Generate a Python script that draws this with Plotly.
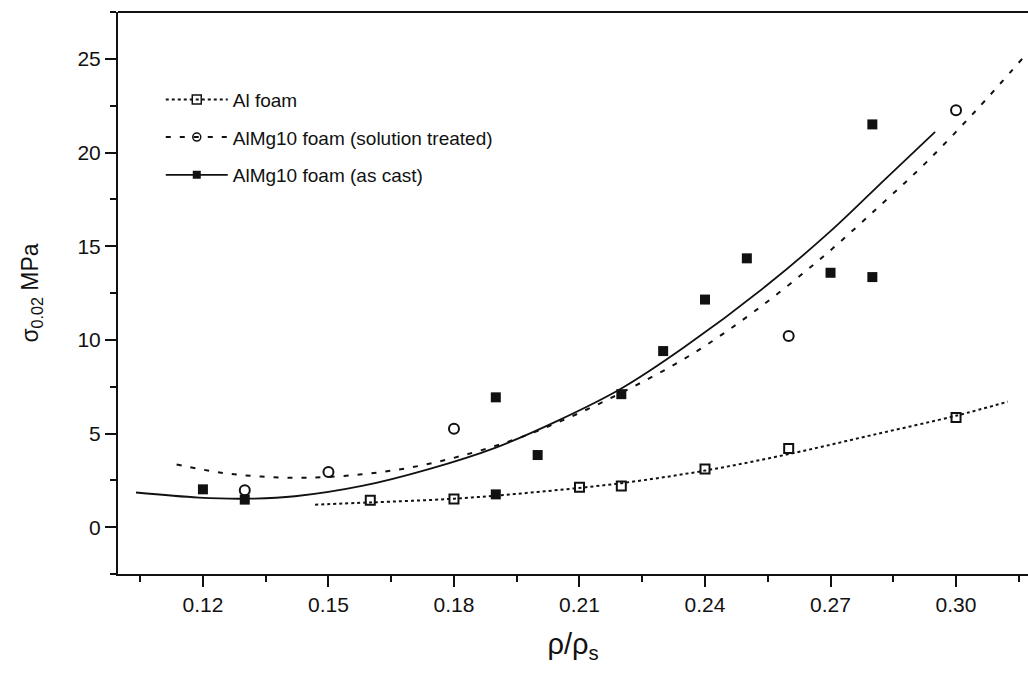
import plotly.graph_objects as go

# Measured yield strength sigma_0.02 (MPa) vs relative density rho/rho_s
al_x = [0.16, 0.18, 0.21, 0.22, 0.24, 0.26, 0.30]
al_y = [1.44, 1.50, 2.13, 2.20, 3.10, 4.20, 5.85]

st_x = [0.13, 0.15, 0.18, 0.26, 0.30]
st_y = [1.97, 2.94, 5.25, 10.2, 22.25]

cast_x = [0.12, 0.13, 0.19, 0.19, 0.20, 0.22, 0.23, 0.24, 0.25, 0.27, 0.28, 0.28]
cast_y = [2.02, 1.47, 6.93, 1.75, 3.85, 7.10, 9.40, 12.15, 14.35, 13.58, 13.35, 21.5]

# Fitted trend curves
al_fit_x = [0.1468, 0.16, 0.18, 0.20, 0.22, 0.24, 0.26, 0.28, 0.30, 0.3124]
al_fit_y = [1.20, 1.32, 1.52, 1.88, 2.35, 3.02, 3.90, 4.92, 5.95, 6.70]

st_fit_x = [0.1137, 0.124, 0.134, 0.145, 0.158, 0.170, 0.182, 0.195, 0.208,
            0.222, 0.237, 0.252, 0.268, 0.282, 0.293, 0.305, 0.3158]
st_fit_y = [3.35, 2.92, 2.70, 2.64, 2.82, 3.20, 3.82, 4.72, 5.90,
            7.40, 9.25, 11.55, 14.40, 17.20, 19.50, 22.30, 25.00]

cast_fit_x = [0.104, 0.119, 0.130, 0.142, 0.158, 0.174, 0.190, 0.205, 0.220,
              0.235, 0.255, 0.270, 0.2834, 0.295]
cast_fit_y = [1.85, 1.58, 1.52, 1.65, 2.20, 3.10, 4.25, 5.70, 7.40,
              9.60, 12.95, 15.80, 18.65, 21.10]

series_names = ["Al foam", "AlMg10 foam (solution treated)", "AlMg10 foam (as cast)"]

FONT = "Liberation Sans, Arial, sans-serif"
INK = "#111111"

fig = go.Figure()

# fit curves
fig.add_trace(go.Scatter(x=al_fit_x, y=al_fit_y, mode="lines", showlegend=False,
                         line=dict(color=INK, width=2, dash="dot", shape="spline")))
fig.add_trace(go.Scatter(x=st_fit_x, y=st_fit_y, mode="lines", showlegend=False,
                         line=dict(color=INK, width=2, dash="5px,9px", shape="spline")))
fig.add_trace(go.Scatter(x=cast_fit_x, y=cast_fit_y, mode="lines", showlegend=False,
                         line=dict(color=INK, width=1.8, shape="spline")))

# measured points
fig.add_trace(go.Scatter(x=al_x, y=al_y, mode="markers", showlegend=False,
                         marker=dict(symbol="square-open", size=9, color=INK,
                                     line=dict(width=2, color=INK))))
fig.add_trace(go.Scatter(x=st_x, y=st_y, mode="markers", showlegend=False,
                         marker=dict(symbol="circle-open", size=10, color=INK,
                                     line=dict(width=2, color=INK))))
fig.add_trace(go.Scatter(x=cast_x, y=cast_y, mode="markers", showlegend=False,
                         marker=dict(symbol="square", size=10, color=INK)))

# legend entries (line style + marker)
legend_styles = [
    (dict(color=INK, width=2, dash="dot"), dict(symbol="square-open", size=9, color=INK, line=dict(width=1.5, color=INK))),
    (dict(color=INK, width=2, dash="5px,9px"), dict(symbol="circle-open", size=8, color=INK, line=dict(width=1.5, color=INK))),
    (dict(color=INK, width=1.8), dict(symbol="square", size=8, color=INK)),
]
for i, (name, (ln, mk)) in enumerate(zip(series_names, legend_styles)):
    fig.add_trace(go.Scatter(x=[None], y=[None], mode="lines+markers", name=name,
                             legendgroup=f"g{i}", line=ln, marker=mk))

axis_common = dict(
    showline=True, linewidth=2, linecolor=INK, mirror=False,
    showgrid=False, zeroline=False,
    ticks="outside", ticklen=11, tickwidth=2, tickcolor=INK,
    tickfont=dict(family=FONT, size=21, color=INK),
)

fig.update_layout(
    width=1028, height=698,
    margin=dict(l=118, r=0, t=12, b=124),
    paper_bgcolor="white", plot_bgcolor="white",
    font=dict(family=FONT, color=INK),
    xaxis=dict(range=[0.0997, 0.3172], dtick=0.03, tick0=0, tickformat=".2f",
               minor=dict(dtick=0.015, tick0=0, ticklen=6, tickwidth=2, tickcolor=INK, ticks="outside"),
               title=dict(text="ρ/ρ<sub>s</sub>", font=dict(family=FONT, size=29, color=INK), standoff=18),
               **axis_common),
    yaxis=dict(range=[-2.5, 27.5], dtick=5, tick0=0,
               minor=dict(dtick=2.5, tick0=0, ticklen=6, tickwidth=2, tickcolor=INK, ticks="outside"),
               title=dict(text="σ<sub>0.02</sub> MPa", font=dict(family=FONT, size=23, color=INK), standoff=32),
               **axis_common),
    legend=dict(x=0.047, y=0.878, xanchor="left", yanchor="top",
                bgcolor="rgba(0,0,0,0)", borderwidth=0,
                font=dict(family=FONT, size=19, color=INK),
                itemwidth=62, tracegroupgap=10, traceorder="grouped"),
    shapes=[dict(type="line", xref="paper", yref="paper", x0=0, x1=1, y0=1, y1=1,
                 line=dict(color=INK, width=2))],
)

fig.write_html("out.html")
